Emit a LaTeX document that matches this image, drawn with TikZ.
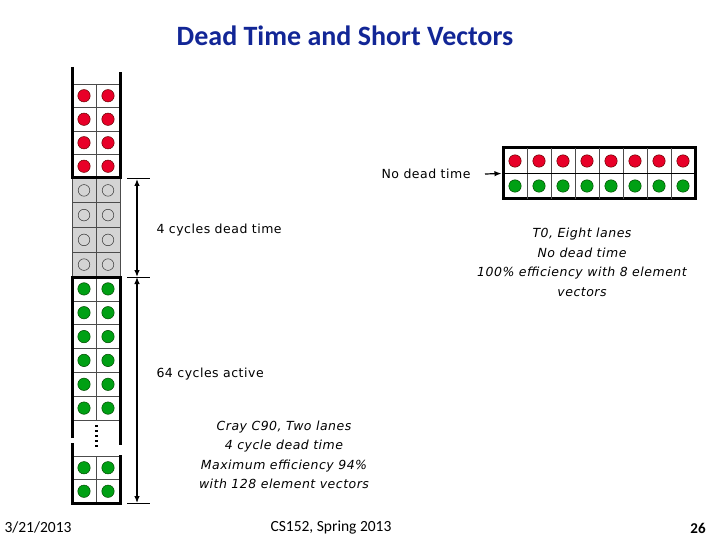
\documentclass[tikz,border=0pt]{standalone}
\usepackage{fontspec}
\setmainfont{Carlito}
\newfontfamily\lblfont[LetterSpace=4]{DejaVu Sans}
\usetikzlibrary{arrows.meta,positioning}
\definecolor{titleblue}{RGB}{18,38,150}
\definecolor{elred}{RGB}{232,0,40}
\definecolor{elgreen}{RGB}{0,160,20}
\definecolor{deadgray}{RGB}{212,212,212}

\begin{document}
\begin{tikzpicture}[x=1pt,y=-1pt,>={Latex[length=7pt,width=5.5pt]},
 lbl/.style={font=\fontsize{12.5}{14}\selectfont\lblfont},
 note/.style={font=\fontsize{12.5}{19.5}\selectfont\lblfont\itshape,align=center},
 foot/.style={font=\fontsize{15.5}{17}\selectfont},
 bar/.style={line width=3pt},
 cellgrid/.style={line width=0.6pt,draw=black!70},
 redel/.style={fill=elred,draw=red!40!black,line width=0.5pt},
 greenel/.style={fill=elgreen,draw=green!30!black,line width=0.5pt},
 deadel/.style={draw=black!80,line width=0.5pt}]
\useasboundingbox (0,0) rectangle (720,540);
\node[font=\fontsize{28}{32}\selectfont\bfseries,text=titleblue] (title) at (345,36) {Dead Time and Short Vectors};

% two-lane column (Cray C90)
\fill[deadgray] (72,178) rectangle (120,277);
\foreach \y in {84,107.5,131,154.5,202.75,227.5,252.25,300.8,324.7,348.5,372.3,396.2,420,456,479.5}
  \draw[cellgrid] (72,\y) -- (120,\y);
\draw[cellgrid] (96,84) -- (96,420) (96,456) -- (96,503);
\draw[cellgrid] (72,178) -- (72,277) (120,178) -- (120,277);
\foreach \c in {84,108} {
  \foreach \y in {95.75,119.25,142.75,166.25} \draw[redel] (\c,\y) circle (6.2pt);
  \foreach \y in {190.4,215.1,239.9,264.6} \draw[deadel] (\c,\y) circle (5.8pt);
  \foreach \y in {288.9,312.7,336.6,360.4,384.3,408.1,467.75,491.25} \draw[greenel] (\c,\y) circle (6.2pt);
}
\draw[bar] (72,67) -- (72,178) -- (120,178) -- (120,72);
\draw[bar] (72,438) -- (72,277) -- (120,277) -- (120,445);
\draw[bar] (72,443) -- (72,503) -- (120,503) -- (120,455);
\foreach \y in {426,431,436,441,446} \fill (94.5,\y-1.3) rectangle (97.5,\y+1.3);

% cycle counts
\coordinate (dimtop) at (137,179);
\coordinate (dimmid) at (137,277);
\coordinate (dimbot) at (137,503);
\foreach \p in {dimtop,dimmid,dimbot} \draw[line width=1pt] ([xshift=-10pt]\p) -- ([xshift=13pt]\p);
\draw[<->,line width=1.2pt] (dimtop) -- (dimmid);
\draw[<->,line width=1.2pt] (dimmid) -- (dimbot);
\node[lbl,anchor=west] (deadlbl) at (153,230) {4 cycles dead time};
\node[lbl,anchor=west] (activelbl) at (153,374) {64 cycles active};
\node[note] (craynote) at (284,455) {Cray C90, Two lanes\\4 cycle dead time\\Maximum efficiency 94\%\\with 128 element vectors};

% eight-lane row (T0)
\node[draw,line width=3pt,minimum width=192pt,minimum height=51pt,inner sep=0pt] (eightlane) at (599,173.5) {};
\foreach \i in {1,...,7} \draw[cellgrid] (503+24*\i,148) -- (503+24*\i,199);
\draw[line width=1.5pt] (eightlane.west) -- (eightlane.east);
\foreach \i in {0,...,7} {
  \draw[redel] (515+24*\i,161) circle (6.2pt);
  \draw[greenel] (515+24*\i,186) circle (6.2pt);
}
\node[lbl,anchor=east] (nodead) at (474,174) {No dead time};
\draw[->,line width=1.2pt] ([xshift=11pt]nodead.east) -- (eightlane.west);
\node[note] (tnote) at (582,262.5) {T0, Eight lanes\\No dead time\\100\% efficiency with 8 element\\vectors};

% footer
\node[foot] (date) at (38,527) {3/21/2013};
\node[foot] (course) at (331,527) {CS152, Spring 2013};
\node[foot,font=\fontsize{15}{17}\selectfont\bfseries] (page) at (698,528) {26};
\end{tikzpicture}
\end{document}
